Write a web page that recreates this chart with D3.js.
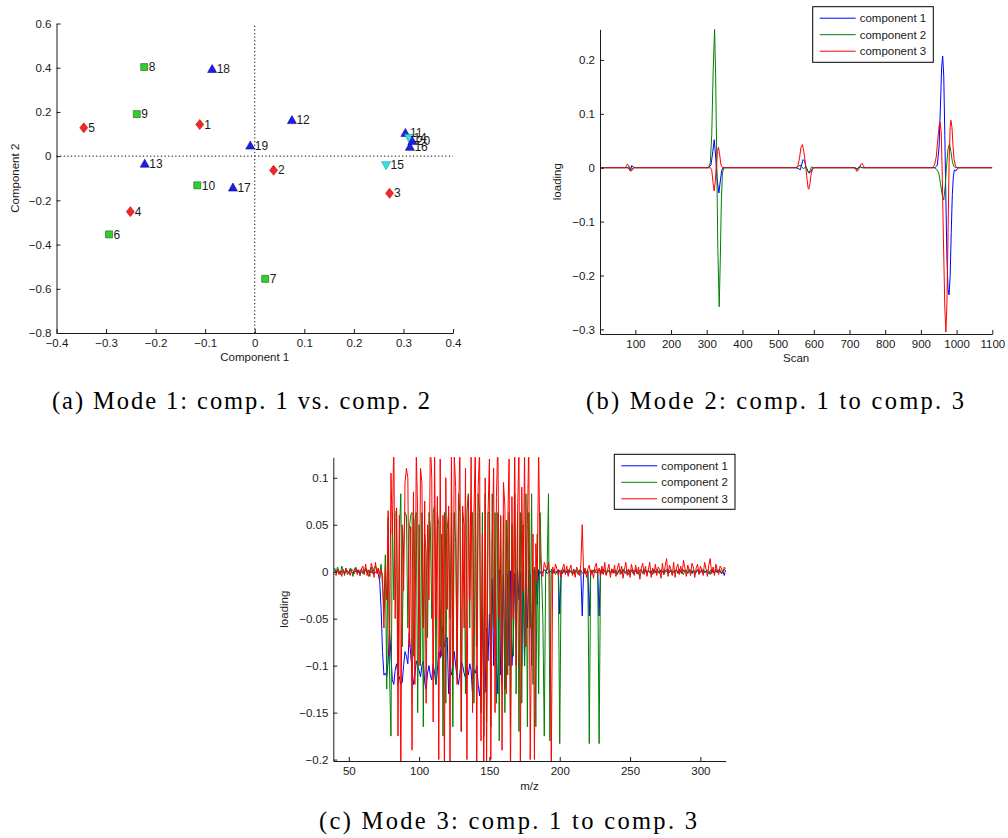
<html>
<head>
<script src="https://d3js.org/d3.v7.min.js"></script>
<style>
  body { margin: 0; background: #fff; }
  text { font-family: "Liberation Sans", Arial, sans-serif; fill: #1a1a1a; }
  .tick text { font-size: 11.5px; }
  .domain, .tick line { stroke: #1a1a1a; }
  .lbl { font-size: 11.5px; }
  .caption { font-family: "Liberation Serif", "DejaVu Serif", serif; font-size: 24.5px; fill: #000; }
</style>
</head>
<body>
<svg id="fig" width="1008" height="838"></svg>
<script>
// ---------- (a) scores, mode 1 ----------
const aLabels = [1,2,3,4,5,6,7,8,9,10,11,12,13,14,15,16,17,18,19,20];
const aComp1 = [-0.111,0.038,0.272,-0.251,-0.345,-0.294,0.021,-0.223,-0.238,-0.116,
                0.304,0.075,-0.222,0.311,0.265,0.313,-0.044,-0.086,-0.009,0.318];
const aComp2 = [0.143,-0.064,-0.168,-0.251,0.128,-0.354,-0.555,0.403,0.190,-0.132,
                0.105,0.163,-0.034,0.083,-0.041,0.042,-0.142,0.394,0.048,0.068];
const aGroup = ["d","d","d","d","d","s","s","s","s","s",
                "t","t","t","v","v","t","t","t","t","t"];
const aXTicks = [-0.4,-0.3,-0.2,-0.1,0,0.1,0.2,0.3,0.4];
const aYTicks = [-0.8,-0.6,-0.4,-0.2,0,0.2,0.4,0.6];

// ---------- (b) loadings, mode 2 (scan, loading) ----------
const bComp1 = [[1,0],[78,0],[82,-0.002],[86,-0.006],[90,0.004],[94,0.001],[98,0],
  [305,0],[312,0.005],[317,0.03],[321,0.052],[325,0.02],[329,-0.02],[334,-0.047],[338,-0.025],[342,-0.005],[346,0],
  [550,0],[558,-0.002],[562,-0.004],[566,0.006],[570,0.015],[574,0.012],[578,0.002],[583,-0.006],[587,-0.01],[591,-0.008],[596,-0.002],[600,0],
  [715,0],[722,-0.002],[727,0.002],[732,0.001],[736,0],
  [940,0],[946,0.005],[951,0.04],[955,0.12],[958,0.185],[961,0.207],[964,0.17],[967,0.06],[970,-0.06],[973,-0.17],[976,-0.225],[979,-0.236],[982,-0.2],[985,-0.12],[988,-0.05],[991,-0.015],[994,-0.004],[998,-0.006],[1002,-0.002],[1006,0],[1100,0]];
const bComp2 = [[1,0],[80,0],[84,0.002],[88,-0.004],[92,-0.002],[96,0.001],[100,0],
  [305,0],[310,0.01],[314,0.06],[318,0.18],[322,0.257],[325,0.17],[328,0.02],[331,-0.15],[335,-0.258],[338,-0.17],[341,-0.06],[344,-0.01],[348,0],
  [552,0],[558,0.003],[562,0.005],[566,0.001],[572,-0.002],[577,0.002],[582,-0.005],[586,-0.01],[590,-0.004],[594,0.002],[598,0],
  [715,0],[721,-0.004],[726,0.001],[730,0.002],[734,0],
  [938,0],[944,-0.003],[950,-0.01],[955,-0.03],[960,-0.052],[964,-0.06],[968,-0.035],[972,0.005],[976,0.035],[980,0.044],[984,0.03],[988,0.012],[992,0.003],[996,0],[1100,0]];
const bComp3 = [[1,0],[72,0],[75,0.003],[78,0.007],[81,0.004],[84,-0.003],[88,-0.007],[92,-0.004],[96,0],
  [310,0],[314,-0.004],[318,-0.03],[321,-0.043],[324,-0.025],[327,0.005],[330,0.03],[333,0.038],[336,0.025],[340,0.005],[344,0],
  [548,0],[555,0.002],[560,0.018],[564,0.038],[568,0.043],[572,0.03],[576,0.01],[580,-0.015],[584,-0.038],[586,-0.04],[589,-0.03],[593,-0.01],[597,-0.002],[601,0],
  [712,0],[717,-0.003],[721,-0.007],[725,-0.004],[729,0.002],[733,0.007],[736,0.008],[739,0.003],[743,0],
  [932,0],[938,0.005],[943,0.02],[947,0.05],[951,0.078],[954,0.084],[957,0.065],[960,-0.02],[963,-0.13],[967,-0.26],[970,-0.305],[973,-0.25],[976,-0.12],[979,0.01],[982,0.075],[984,0.088],[987,0.075],[990,0.04],[993,0.015],[997,0.003],[1001,0],[1100,0]];
const bXTicks = [100,200,300,400,500,600,700,800,900,1000,1100];
const bYTicks = [-0.3,-0.2,-0.1,0,0.1,0.2];

// ---------- (c) loadings, mode 3 (m/z 40..318, one value per unit) ----------
const cMzStart = 40;
const cComp1 = [
  0.002,-0.001,0.001,0.000,-0.002,0.001,0.002,-0.001,0.000,0.001,
  -0.001,0.002,0.000,-0.002,0.001,0.000,0.002,-0.001,0.001,0.000,
  -0.002,0.001,0.002,-0.001,0.000,0.001,-0.001,0.002,0.000,-0.001,
  0.001,-0.003,-0.010,-0.040,-0.085,-0.110,-0.108,-0.112,-0.095,-0.062,
  -0.090,-0.115,-0.120,-0.105,-0.098,-0.110,-0.112,-0.120,-0.118,-0.100,
  -0.085,-0.090,-0.098,-0.065,-0.088,-0.105,-0.120,-0.110,-0.095,-0.100,
  -0.105,-0.112,-0.100,-0.095,-0.118,-0.125,-0.108,-0.100,-0.110,-0.115,
  -0.098,-0.108,-0.120,-0.105,-0.085,-0.092,-0.070,-0.058,-0.080,-0.075,
  -0.070,-0.130,-0.095,-0.110,-0.105,-0.085,-0.100,-0.112,-0.120,-0.108,
  -0.095,-0.100,-0.108,-0.113,-0.102,-0.110,-0.098,-0.105,-0.130,-0.105,
  -0.108,-0.100,-0.120,-0.132,-0.115,-0.040,-0.130,-0.128,-0.060,-0.095,
  -0.045,-0.090,-0.008,-0.100,-0.002,-0.095,-0.130,0.002,-0.110,-0.060,
  -0.003,-0.125,-0.080,-0.002,-0.100,0.001,-0.100,-0.070,-0.002,-0.060,
  0.002,-0.030,-0.001,-0.100,0.000,-0.100,-0.002,-0.060,0.001,-0.003,
  -0.100,0.002,-0.001,0.000,-0.035,0.002,-0.002,0.001,-0.001,0.002,
  0.001,-0.002,0.000,0.001,-0.001,-0.002,0.001,0.000,-0.001,0.002,
  -0.045,0.001,-0.002,0.001,0.000,-0.001,0.002,-0.001,0.001,0.000,
  -0.002,0.001,0.000,-0.001,0.002,-0.001,-0.047,0.001,-0.002,0.000,
  0.001,-0.047,0.000,-0.001,0.002,0.000,-0.001,0.001,-0.047,0.001,
  -0.001,0.002,0.000,-0.002,0.001,0.001,-0.001,0.000,0.002,-0.001,
  0.001,-0.002,0.000,0.002,-0.001,0.001,0.000,-0.002,0.001,0.002,
  -0.001,0.000,0.002,-0.001,0.001,-0.002,0.000,0.001,0.002,-0.001,
  0.000,0.002,-0.001,0.001,0.000,-0.002,0.001,0.002,-0.001,0.000,
  0.001,-0.001,0.002,0.000,-0.002,0.001,0.000,0.002,-0.001,0.001,
  -0.002,0.000,0.001,0.002,-0.001,0.000,0.001,-0.002,0.002,0.000,
  0.001,-0.001,0.000,0.002,-0.002,0.001,0.000,-0.001,0.002,0.001,
  -0.001,0.000,0.002,-0.001,0.001,0.000,-0.002,0.001,0.002,-0.001,
  0.000,0.001,-0.001,0.002,0.000,-0.002,0.001,-0.004,0.002];
const cComp2 = [
  0.004,-0.002,0.005,0.001,-0.003,0.006,0.002,-0.004,0.003,0.000,
  -0.002,0.004,0.001,-0.005,0.003,0.005,-0.001,0.002,-0.004,0.003,
  0.000,-0.003,0.004,0.002,-0.005,0.001,0.005,-0.002,0.004,0.006,
  0.002,0.003,-0.002,0.008,-0.015,-0.040,0.018,-0.125,0.058,-0.110,
  -0.175,0.063,-0.030,0.063,0.065,-0.120,0.040,0.083,-0.080,0.030,
  0.063,0.060,-0.060,0.045,0.060,0.063,-0.090,0.055,0.063,-0.150,
  0.050,-0.100,0.063,-0.165,0.040,0.020,-0.070,0.063,0.048,-0.050,
  0.063,0.070,-0.120,0.063,0.050,-0.080,0.040,-0.175,0.063,-0.140,
  0.045,0.063,-0.050,0.063,-0.165,0.063,0.030,-0.110,0.083,0.063,
  -0.170,0.063,0.050,-0.130,0.063,0.083,-0.060,0.063,0.063,-0.140,
  0.083,-0.080,0.083,0.063,-0.150,0.063,-0.175,0.083,-0.160,0.063,
  0.063,-0.165,0.083,-0.060,0.063,-0.140,0.063,-0.180,0.058,-0.120,
  0.060,-0.150,0.055,-0.110,0.063,-0.165,0.050,-0.090,0.083,-0.130,
  0.060,-0.170,0.063,-0.140,0.050,-0.100,0.083,-0.165,0.063,-0.060,
  0.083,-0.120,0.005,-0.165,0.040,-0.130,0.063,0.000,-0.050,-0.175,
  0.002,0.001,0.083,-0.180,0.003,-0.001,0.002,-0.003,0.001,-0.002,
  -0.183,0.002,-0.001,0.003,-0.002,0.001,-0.003,0.002,0.000,-0.002,
  0.003,-0.001,0.002,-0.003,0.001,0.002,-0.002,0.000,0.003,-0.001,
  0.001,-0.183,0.002,-0.002,0.001,-0.001,0.003,0.000,-0.183,0.002,
  -0.002,0.003,0.001,-0.003,0.002,0.000,-0.002,0.003,-0.001,0.002,
  0.000,-0.003,0.002,0.001,-0.002,0.003,-0.001,0.000,0.002,-0.003,
  0.001,0.002,-0.002,0.000,0.003,-0.001,-0.003,0.002,0.001,-0.002,
  0.003,0.000,-0.002,0.002,-0.001,0.001,-0.003,0.002,0.000,0.003,
  -0.001,-0.002,0.002,0.001,-0.003,0.000,0.003,-0.002,0.001,0.002,
  -0.003,0.001,0.000,0.002,-0.002,0.003,-0.001,0.000,-0.003,0.002,
  0.001,-0.002,0.003,0.000,-0.001,0.002,-0.003,0.001,0.002,-0.002,
  0.000,0.003,-0.002,0.001,-0.001,0.002,0.000,-0.003,0.002,0.001,
  -0.002,0.003,0.000,-0.001,0.002,-0.002,0.001,0.003,0.000];
const cComp3 = [
  -0.002,-0.004,0.003,-0.003,0.001,-0.005,0.002,-0.002,0.004,-0.003,
  0.000,-0.004,0.003,0.001,-0.002,0.004,-0.003,0.002,-0.004,0.003,
  0.006,-0.002,0.008,-0.004,0.002,-0.005,0.009,0.003,-0.006,0.010,
  -0.002,0.004,-0.008,0.002,-0.004,-0.060,0.005,-0.030,0.065,-0.090,
  0.105,0.040,0.140,-0.050,0.068,-0.175,0.060,-0.230,0.050,-0.020,
  0.095,0.110,0.100,-0.080,0.048,-0.190,0.085,-0.120,0.130,0.060,
  -0.100,0.110,0.095,-0.060,0.075,-0.140,0.050,-0.030,0.140,0.100,
  -0.160,0.130,-0.050,0.080,-0.200,0.120,-0.090,0.060,-0.220,0.100,
  -0.040,0.070,-0.210,0.130,-0.100,0.125,0.090,-0.120,0.050,0.135,
  -0.170,0.070,-0.060,0.110,-0.200,0.080,-0.030,0.125,-0.150,0.060,
  0.140,-0.210,0.090,0.130,-0.180,0.040,-0.230,0.100,-0.210,0.060,
  0.120,-0.200,0.030,0.110,-0.150,0.080,0.140,-0.050,0.060,-0.190,
  0.095,0.070,-0.130,0.050,0.120,-0.230,0.080,-0.050,0.140,-0.100,
  0.060,0.135,-0.210,0.090,-0.020,0.130,-0.080,0.050,0.140,-0.200,
  -0.060,0.040,-0.200,0.030,-0.010,0.130,0.020,0.000,-0.005,0.010,
  0.005,0.002,0.010,-0.005,-0.210,0.005,-0.002,0.008,0.003,-0.004,
  0.002,-0.006,0.004,0.008,-0.003,0.006,-0.005,0.003,0.007,-0.004,
  0.002,-0.006,0.005,0.001,-0.004,0.008,0.050,-0.003,0.004,-0.006,
  0.003,0.007,-0.004,0.002,-0.007,0.005,0.009,-0.002,0.004,-0.005,
  0.006,-0.003,0.010,-0.004,0.002,0.008,-0.006,0.003,-0.002,0.007,
  -0.005,0.004,0.009,-0.003,0.006,-0.007,0.002,0.010,-0.004,0.003,
  -0.006,0.008,0.001,-0.004,0.007,-0.002,0.005,-0.008,0.004,0.009,
  -0.003,0.006,-0.005,0.002,0.010,-0.006,0.004,-0.002,0.008,-0.004,
  0.005,0.002,-0.007,0.009,-0.003,0.006,0.014,-0.005,0.007,0.003,
  -0.004,0.010,-0.006,0.004,0.008,-0.003,0.006,-0.002,0.012,0.004,
  -0.005,0.007,0.002,-0.004,0.009,0.005,-0.006,0.004,0.008,-0.003,
  0.006,0.002,-0.004,0.010,0.003,-0.005,0.007,0.014,-0.002,0.005,
  -0.004,0.008,0.002,-0.003,0.006,0.004,-0.002,0.005,0.003];
const cXTicks = [50,100,150,200,250,300];
const cYTicks = [-0.2,-0.15,-0.1,-0.05,0,0.05,0.1];

const seriesNames = ["component 1","component 2","component 3"];
const seriesColors = ["#0000ff","#008000","#ff0000"];

// ---------- drawing ----------
const svg = d3.select("#fig");
const fmt = (d) => String(d).replace("-", "\u2212");

function drawAxes(g, x, y, xTicks, yTicks) {
  g.append("g")
    .attr("transform", "translate(0," + y.range()[0] + ")")
    .call(d3.axisBottom(x).tickValues(xTicks).tickSizeInner(-4).tickSizeOuter(0).tickPadding(6).tickFormat(fmt));
  g.append("g")
    .attr("transform", "translate(" + x.range()[0] + ",0)")
    .call(d3.axisLeft(y).tickValues(yTicks).tickSizeInner(-4).tickSizeOuter(0).tickPadding(5).tickFormat(fmt));
}

function drawLegend(g, x0, y0, w, h) {
  g.append("rect").attr("x", x0).attr("y", y0).attr("width", w).attr("height", h)
    .attr("fill", "#fff").attr("stroke", "#000").attr("stroke-width", 1);
  seriesNames.forEach((name, i) => {
    const yy = y0 + 11.5 + i * 16.5;
    g.append("line").attr("x1", x0 + 7).attr("x2", x0 + 43).attr("y1", yy).attr("y2", yy)
      .attr("stroke", seriesColors[i]).attr("stroke-width", 1);
    g.append("text").attr("class", "lbl").attr("x", x0 + 47).attr("y", yy).attr("dy", "0.35em").text(name);
  });
}

function axisLabels(g, x, y, xText, yText, xLabY, yLabX) {
  const xr = x.range(), yr = y.range();
  g.append("text").attr("class", "lbl").attr("text-anchor", "middle")
    .attr("x", (xr[0] + xr[1]) / 2).attr("y", xLabY).text(xText);
  g.append("text").attr("class", "lbl").attr("text-anchor", "middle")
    .attr("transform", "translate(" + yLabX + "," + (yr[0] + yr[1]) / 2 + ") rotate(-90)").text(yText);
}

// (a)
const ga = svg.append("g");
const xa = d3.scaleLinear().domain([-0.4, 0.4]).range([56.5, 453]);
const ya = d3.scaleLinear().domain([-0.8, 0.6]).range([333, 23.5]);
ga.append("line").attr("x1", xa(0)).attr("x2", xa(0)).attr("y1", ya(-0.8)).attr("y2", ya(0.6))
  .attr("stroke", "#000").attr("stroke-dasharray", "1.2,2.4");
ga.append("line").attr("x1", xa(-0.4)).attr("x2", xa(0.4)).attr("y1", ya(0)).attr("y2", ya(0))
  .attr("stroke", "#000").attr("stroke-dasharray", "1.2,2.4");
drawAxes(ga, xa, ya, aXTicks, aYTicks);
axisLabels(ga, xa, ya, "Component 1", "Component 2", 361, 19);

const shapes = {
  d: "M0,-5L4,0L0,5L-4,0Z",
  s: "M-3.5,-3.5H3.5V3.5H-3.5Z",
  t: "M0,-4.5L4.5,3.5H-4.5Z",
  v: "M0,4.5L4.5,-3.5H-4.5Z"
};
const fills = { d: "#f02828", s: "#33cc33", t: "#1e1ee6", v: "#33e0e6" };
const strokes = { d: "#b01010", s: "#1a661a", t: "#0a0a90", v: "#1a9aa0" };
const pts = aLabels.map((l, i) => ({ l, x: aComp1[i], y: aComp2[i], g: aGroup[i] }));
ga.selectAll("path.pt").data(pts).join("path").attr("class", "pt")
  .attr("d", (d) => shapes[d.g])
  .attr("transform", (d) => "translate(" + xa(d.x) + "," + ya(d.y) + ")")
  .attr("fill", (d) => fills[d.g]).attr("stroke", (d) => strokes[d.g]).attr("stroke-width", 0.6);
ga.selectAll("text.pl").data(pts).join("text").attr("class", "pl")
  .attr("x", (d) => xa(d.x) + 4.5).attr("y", (d) => ya(d.y)).attr("dy", "0.35em")
  .attr("font-size", "12px").text((d) => d.l);

// (b)
const gb = svg.append("g");
const xb = d3.scaleLinear().domain([1, 1100]).range([600, 992.3]);
const yb = d3.scaleLinear().domain([-0.3086, 0.2568]).range([334, 29.3]);
svg.append("clipPath").attr("id", "clipb").append("rect")
  .attr("x", 600).attr("y", 29.3).attr("width", 392.3).attr("height", 304.7);
const lineB = d3.line().x((d) => xb(d[0])).y((d) => yb(d[1]));
gb.append("g").attr("clip-path", "url(#clipb)").selectAll("path")
  .data([bComp1, bComp2, bComp3]).join("path")
  .attr("d", lineB).attr("fill", "none").attr("stroke-width", 1)
  .attr("stroke", (d, i) => seriesColors[i]);
drawAxes(gb, xb, yb, bXTicks, bYTicks);
axisLabels(gb, xb, yb, "Scan", "loading", 362, 561);
drawLegend(gb, 812.7, 6.7, 120.6, 55.6);

// (c)
const gc = svg.append("g");
const xc = d3.scaleLinear().domain([39, 318]).range([333.3, 725.7]);
const yc = d3.scaleLinear().domain([-0.2015, 0.1218]).range([761, 457.3]);
svg.append("clipPath").attr("id", "clipc").append("rect")
  .attr("x", 333.3).attr("y", 457.3).attr("width", 392.4).attr("height", 303.7);
const lineC = d3.line().x((d, i) => xc(cMzStart + i)).y((d) => yc(d));
gc.append("g").attr("clip-path", "url(#clipc)").selectAll("path")
  .data([cComp1, cComp2, cComp3]).join("path")
  .attr("d", lineC).attr("fill", "none").attr("stroke-width", 1)
  .attr("stroke", (d, i) => seriesColors[i]);
drawAxes(gc, xc, yc, cXTicks, cYTicks);
axisLabels(gc, xc, yc, "m/z", "loading", 790, 288);
drawLegend(gc, 614.3, 454.3, 120.7, 55);

// captions
const caps = [
  ["(a) Mode 1: comp. 1 vs. comp. 2", 241, 409],
  ["(b) Mode 2: comp. 1 to comp. 3", 775, 409],
  ["(c) Mode 3: comp. 1 to comp. 3", 508, 829]
];
svg.selectAll("text.caption").data(caps).join("text").attr("class", "caption")
  .attr("x", (d) => d[1]).attr("y", (d) => d[2]).attr("text-anchor", "middle")
  .attr("textLength", 378).attr("lengthAdjust", "spacing").text((d) => d[0]);
</script>
</body>
</html>
